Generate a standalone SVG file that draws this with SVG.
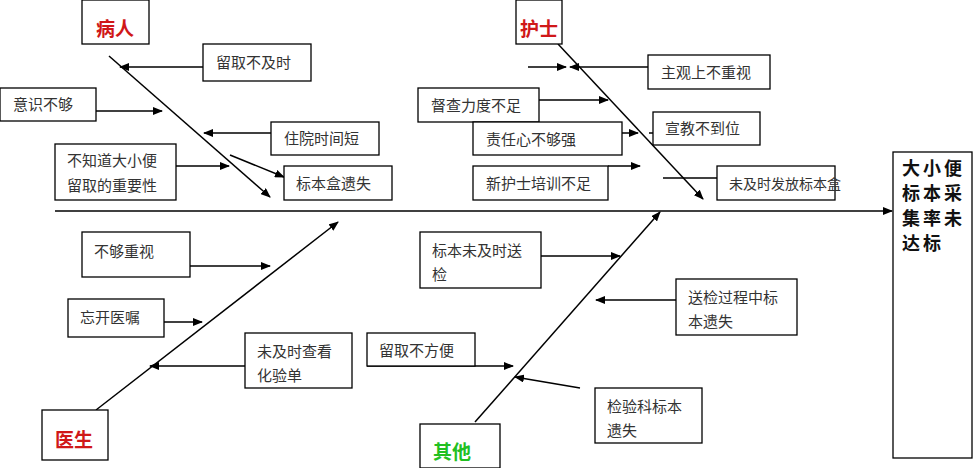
<svg xmlns="http://www.w3.org/2000/svg" width="974" height="468" viewBox="0 0 974 468">
<style>
rect{fill:#fff;stroke:#000;stroke-width:1.3}
text{font-family:"Noto Sans CJK SC",sans-serif;font-size:15px;fill:#333}
.h{font-size:19px;font-weight:bold}
.r{fill:#d01818}.g{fill:#22c022}
.t{font-size:18px;font-weight:bold;fill:#111;letter-spacing:3px}
line{stroke:#000;stroke-width:1.5}
.a{marker-end:url(#m)}
</style>
<defs><marker id="m" markerWidth="10" markerHeight="8" refX="9" refY="4" orient="auto" markerUnits="userSpaceOnUse"><path d="M0,0L10,4L0,8z" fill="#000"/></marker></defs>
<g id="connectors">
<line class="a" x1="55" y1="211" x2="892" y2="211"/>
<line class="a" x1="109" y1="56" x2="270" y2="197"/>
<line class="a" x1="203" y1="67" x2="120" y2="67"/>
<line class="a" x1="96" y1="111" x2="162" y2="111"/>
<line class="a" x1="271" y1="133" x2="204" y2="133"/>
<line class="a" x1="176" y1="166" x2="229" y2="166"/>
<line class="a" x1="230" y1="155" x2="284" y2="177"/>
<line class="a" x1="558" y1="44" x2="703" y2="199"/>
<line class="a" x1="528" y1="67" x2="566" y2="67"/>
<line class="a" x1="648" y1="67" x2="570" y2="67"/>
<line class="a" x1="539" y1="100" x2="608" y2="100"/>
<line class="a" x1="622" y1="133" x2="638" y2="133"/>
<line x1="649" y1="133" x2="653" y2="133"/>
<line class="a" x1="608" y1="166" x2="640" y2="166"/>
<line x1="663" y1="178" x2="717" y2="178"/>
<line class="a" x1="96" y1="410" x2="338" y2="222"/>
<line class="a" x1="190" y1="266" x2="270" y2="266"/>
<line class="a" x1="164" y1="322" x2="202" y2="322"/>
<line class="a" x1="245" y1="366" x2="150" y2="366"/>
<line class="a" x1="475" y1="422" x2="660" y2="212"/>
<line class="a" x1="541" y1="256" x2="620" y2="256"/>
<line class="a" x1="676" y1="300" x2="596" y2="300"/>
<line class="a" x1="367" y1="366" x2="513" y2="366"/>
<line class="a" x1="580" y1="388" x2="515" y2="377"/>
</g>
<g id="n-patient"><rect x="82" y="0" width="67" height="44"/><text class="h r" x="115" y="36" text-anchor="middle">病人</text></g>
<g id="n1"><rect x="203" y="44" width="108" height="37"/><text x="216" y="68">留取不及时</text></g>
<g id="n2"><rect x="0" y="88" width="96" height="33"/><text x="13" y="110">意识不够</text></g>
<g id="n3"><rect x="271" y="122" width="108" height="33"/><text x="284" y="144">住院时间短</text></g>
<g id="n4"><rect x="55" y="144" width="121" height="56"/><text x="67" y="166">不知道大小便</text><text x="67" y="191">留取的重要性</text></g>
<g id="n5"><rect x="284" y="166" width="108" height="34"/><text x="296" y="189">标本盒遗失</text></g>
<g id="n-nurse"><rect x="516" y="0" width="46" height="44"/><text class="h r" x="539" y="36" text-anchor="middle">护士</text></g>
<g id="n6"><rect x="648" y="55" width="122" height="34"/><text x="661" y="78">主观上不重视</text></g>
<g id="n7"><rect x="418" y="88" width="121" height="34"/><text x="431" y="111">督查力度不足</text></g>
<g id="n8"><rect x="653" y="112" width="107" height="33"/><text x="665" y="134">宣教不到位</text></g>
<g id="n9"><rect x="473" y="122" width="149" height="33"/><text x="486" y="145">责任心不够强</text></g>
<g id="n10"><rect x="473" y="166" width="135" height="34"/><text x="486" y="189">新护士培训不足</text></g>
<g id="n11"><rect x="717" y="166" width="118" height="34"/><text x="729" y="189" style="font-size:14px">未及时发放标本盒</text></g>
<g id="n-target"><rect x="893" y="152" width="79" height="306" stroke-width="2.5"/><text class="t" x="902" y="175">大小便</text><text class="t" x="902" y="200">标本采</text><text class="t" x="902" y="225">集率未</text><text class="t" x="902" y="250">达标</text></g>
<g id="n-doctor"><rect x="42" y="410" width="66" height="50"/><text class="h r" x="74" y="447" text-anchor="middle">医生</text></g>
<g id="n12"><rect x="82" y="232" width="108" height="45"/><text x="94" y="257">不够重视</text></g>
<g id="n13"><rect x="68" y="299" width="96" height="38"/><text x="80" y="323">忘开医嘱</text></g>
<g id="n14"><rect x="245" y="333" width="107" height="55"/><text x="257" y="357">未及时查看</text><text x="257" y="381">化验单</text></g>
<g id="n-other"><rect x="420" y="424" width="80" height="44"/><text class="h g" x="452" y="459" text-anchor="middle">其他</text></g>
<g id="n15"><rect x="420" y="232" width="121" height="56"/><text x="432" y="256">标本未及时送</text><text x="432" y="280">检</text></g>
<g id="n16"><rect x="676" y="279" width="121" height="56"/><text x="688" y="303">送检过程中标</text><text x="688" y="327">本遗失</text></g>
<g id="n17"><rect x="367" y="333" width="108" height="33"/><text x="379" y="356">留取不方便</text></g>
<g id="n18"><rect x="595" y="388" width="107" height="55"/><text x="607" y="412">检验科标本</text><text x="607" y="436">遗失</text></g>
</svg>
